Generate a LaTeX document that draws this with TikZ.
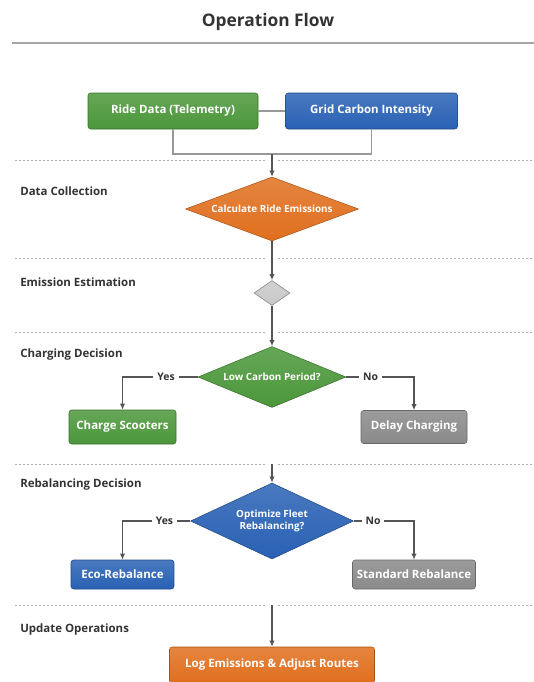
\documentclass[tikz,border=0pt]{standalone}
\usepackage{fontspec}
\setmainfont{Open Sans}
\usetikzlibrary{positioning,shapes.geometric,arrows.meta}

\definecolor{flowgreen}{HTML}{4B973A}
\definecolor{flowblue}{HTML}{2961B4}
\definecolor{floworange}{HTML}{E06F1E}
\definecolor{flowgray}{HTML}{8A8A8A}
\definecolor{smallgray}{HTML}{C9C9C9}
\definecolor{linkgray}{HTML}{555555}
\definecolor{lanegray}{HTML}{B0B0B0}
\definecolor{labelgray}{HTML}{333333}

\tikzset{
	procbox/.style={draw=#1!75!black, top color=#1!85!white, bottom color=#1, rounded corners=2pt,
		text=white, font=\bfseries\fontsize{8.6}{10}\selectfont, inner sep=0pt},
	decision/.style={diamond, draw=#1!75!black, top color=#1!85!white, bottom color=#1, text=white,
		inner sep=0pt, font=\bfseries\fontsize{7.4}{9}\selectfont, align=center},
	flow/.style={draw=linkgray, line width=0.9pt, -{Latex[length=4.5pt,width=4pt]}},
	link/.style={draw=gray!80, line width=0.9pt},
	lane/.style={draw=lanegray, dash pattern=on 1.5pt off 1.5pt, line width=0.6pt},
	lanelabel/.style={anchor=west, inner sep=0pt, text=labelgray, font=\bfseries\fontsize{8.6}{10}\selectfont},
	branch/.style={fill=white, text=labelgray, font=\bfseries\fontsize{7.8}{9}\selectfont, inner sep=3pt},
}

\begin{document}
\begin{tikzpicture}[x=0.75pt, y=-0.75pt]
	\useasboundingbox (0,0) rectangle (534,682);
	% title
	\node[font=\bfseries\fontsize{13}{15}\selectfont, text=labelgray] (title) at (268,22) {Operation Flow};
	\draw[gray!70, line width=0.8pt] (12,43) -- (534,43);
	%
	% lanes
	\foreach \y in {160,258,332,464,605} {
		\draw[lane] (15,\y) -- (265,\y);
		\draw[lane] (278,\y) -- (534,\y);
	}
	\node[lanelabel] (lcollect) at (20,191) {Data Collection};
	\node[lanelabel] (lestim) at (20,282) {Emission Estimation};
	\node[lanelabel] (lcharge) at (20,355) {Charging Decision};
	\node[lanelabel] (lrebal) at (20,485) {Rebalancing Decision};
	\node[lanelabel] (lupdate) at (20,630) {Update Operations};
	%
	% nodes
	\node[procbox=flowgreen, minimum width=127.5pt, minimum height=27pt] (ride) at (173,111) {Ride Data (Telemetry)};
	\node[procbox=flowblue, minimum width=129pt, minimum height=27pt, right=20.25pt of ride] (grid) {Grid Carbon Intensity};
	\coordinate (join) at (272,154);
	\node[decision=floworange, aspect=2.7, minimum width=129.75pt, minimum height=48pt] (calc) at (272,209) {Calculate Ride Emissions};
	\node[decision=smallgray, aspect=1.44, minimum width=27pt, minimum height=18.75pt, draw=gray] (estim) at (272,293) {};
	\node[decision=flowgreen, aspect=2.43, minimum width=111pt, minimum height=45.75pt] (lowc) at (272,377) {Low Carbon Period?};
	\node[procbox=flowgreen, minimum width=80.25pt, minimum height=25.5pt] (charge) at (122.5,427) {Charge Scooters};
	\node[procbox=flowgray, minimum width=79.5pt, minimum height=24.75pt] (delay) at (414,427) {Delay Charging};
	\coordinate (in4) at (272,464);
	\node[decision=flowblue, aspect=2.14, minimum width=122.25pt, minimum height=57pt] (optim) at (272,521) {Optimize Fleet\\Rebalancing?};
	\node[procbox=flowblue, minimum width=77.25pt, minimum height=21.75pt] (eco) at (122.5,574.5) {Eco-Rebalance};
	\node[procbox=flowgray, minimum width=92.25pt, minimum height=21.75pt] (std) at (414,574.5) {Standard Rebalance};
	\coordinate (in5) at (272,605);
	\node[procbox=floworange, minimum width=153.75pt, minimum height=27pt] (logem) at (272,665) {Log Emissions \& Adjust Routes};
	%
	% connectors
	\draw[link] (ride.east) -- (grid.west);
	\draw[link] (ride.south) |- (join) -| (grid.south);
	\draw[flow] (join) -- (calc.north);
	\draw[flow] (calc.south) -- (estim.north);
	\draw[flow] (estim.south) -- (lowc.north);
	\draw[flow] (lowc.west) -| node[branch, pos=0.21] {Yes} (charge.north);
	\draw[flow] (lowc.east) -| node[branch, pos=0.18] {No} (delay.north);
	\draw[flow] (in4) -- (optim.north);
	\draw[flow] (optim.west) -| node[branch, pos=0.19] {Yes} (eco.north);
	\draw[flow] (optim.east) -| node[branch, pos=0.16] {No} (std.north);
	\draw[flow] (in5) -- (logem.north);
\end{tikzpicture}
\end{document}
